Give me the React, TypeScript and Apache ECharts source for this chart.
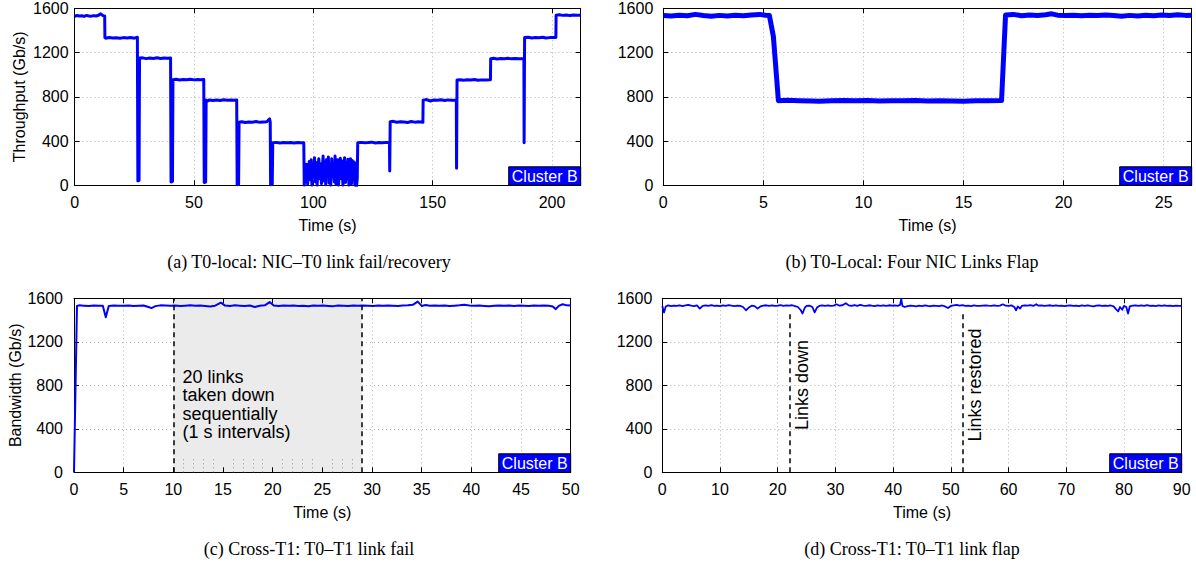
import React, { useEffect, useRef } from "react";
import * as echarts from "echarts";

// ---------- Panel (a): T0-local NIC–T0 link fail/recovery ----------
const tA = [
  0, 1, 2, 3, 4, 5, 6, 7, 8, 9, 10, 10.8, 12, 12.6,
  12.7, 13, 14.5, 16, 17.5, 19, 20.5, 22, 23.5, 25, 26.3,
  26.5, 27.0, 27.2, 28.5, 30, 31.5, 33, 34.5, 36, 37.5, 39, 40.2,
  40.4, 41.0, 41.2, 42.5, 44, 45.5, 47, 48.5, 50, 51.5, 53, 54.1,
  54.3, 54.9, 55.1, 55.6, 56.5, 58, 59.5, 61, 62.5, 64, 65.5, 67, 67.9,
  68.1, 68.7, 68.9, 70, 71.5, 73, 74.5, 76, 77.5, 79, 80.5, 81.7, 81.95,
  82.1, 82.8, 83.0, 84.5, 86, 87.5, 89, 90.5, 92, 93.5, 95, 96,
  96.2, 96.5, 96.9, 97.2, 97.6, 98.0, 98.3, 98.7, 99.1, 99.4, 99.8, 100.1, 100.5, 100.9, 101.2,
  101.6, 101.9, 102.3, 102.7, 103.0, 103.4, 103.7, 104.1, 104.5, 104.8, 105.2, 105.5, 105.9, 106.3,
  106.6, 107.0, 107.3, 107.7, 108.1, 108.4, 108.8, 109.1, 109.5, 109.9, 110.2, 110.6, 110.9, 111.3,
  111.7, 112.0, 112.4, 112.7, 113.1, 113.5, 113.8, 114.2, 114.5, 114.9, 115.3, 115.6, 116.0, 116.3,
  116.7, 117.1, 117.4, 117.8, 118.1, 118.4,
  118.6, 120, 121.5, 123, 124.5, 126, 127.5, 129, 130.5, 131.9,
  132.0, 132.2, 133.5, 135, 136.5, 138, 139.5, 141, 142.5, 144, 145.9,
  146.0, 147.5, 149, 150.5, 152, 153.5, 155, 156.5, 158, 159.9,
  160.0, 160.2, 161.5, 163, 164.5, 166, 167.5, 169, 170.5, 172, 174.2,
  174.3, 175.5, 177, 178.5, 180, 181.5, 183, 184.5, 186, 188.2,
  188.3, 188.5, 190, 191.5, 193, 194.5, 196, 197.5, 199, 201.6,
  201.7, 203, 204.5, 206, 207.5, 209, 210.5, 212,
];
const vA = [
  1528, 1535, 1530, 1533, 1527, 1536, 1531, 1529, 1534, 1530, 1537, 1550, 1532, 1530,
  1335, 1330, 1336, 1331, 1334, 1329, 1335, 1332, 1336, 1330, 1338,
  40, 45, 1150, 1152, 1145, 1150, 1147, 1153, 1146, 1150, 1148, 1151,
  30, 35, 955, 958, 952, 957, 954, 959, 953, 956, 955, 957,
  25, 30, 770, 760, 772, 767, 771, 766, 773, 769, 770, 768, 772,
  5, 10, 570, 575, 568, 573, 570, 576, 569, 572, 574, 600, 572,
  5, 10, 385, 388, 383, 386, 384, 387, 382, 386, 384, 385,
  0, 140, 35, 190, 10, 120, 215, 50, 230, 0, 180, 95, 250, 30, 205,
  0, 160, 240, 60, 195, 15, 130, 265, 40, 210, 5, 230, 110, 255,
  20, 175, 0, 240, 85, 200, 30, 265, 10, 150, 230, 0, 190, 245,
  60, 220, 0, 170, 250, 25, 200, 90, 235, 0, 185, 240, 15, 225,
  50, 210, 0, 195, -10, 60,
  385, 388, 384, 386, 390, 383, 387, 385, 388, 384,
  130, 575, 578, 570, 575, 572, 568, 576, 571, 574, 570,
  770, 775, 762, 771, 768, 774, 766, 772, 769, 771,
  155, 952, 955, 950, 954, 951, 956, 949, 953, 951, 954,
  1145, 1148, 1142, 1146, 1144, 1149, 1143, 1147, 1145, 1146,
  385, 1335, 1338, 1332, 1336, 1334, 1339, 1331, 1335, 1336,
  1538, 1542, 1536, 1540, 1534, 1539, 1537, 1538,
];

// ---------- Panel (b): Four NIC links flap ----------
const tB = [
  0, 0.4, 0.8, 1.2, 1.6, 2.0, 2.4, 2.8, 3.2, 3.6, 4.0, 4.4, 4.8, 5.1, 5.3, 5.5, 5.75,
  6.2, 6.8, 7.4, 7.8, 8.4, 9.0, 9.6, 10.2, 10.8, 11.4, 12.0, 12.6, 13.2, 13.8, 14.4, 15.0,
  15.6, 16.2, 16.9, 17.1, 17.5, 17.9, 18.3, 18.7, 19.1, 19.4, 19.7, 20.1, 20.5, 20.9, 21.3,
  21.7, 22.1, 22.5, 22.9, 23.3, 23.7, 24.1, 24.5, 24.9, 25.3, 25.7, 26.1, 26.4,
];
const vB = [
  1535, 1530, 1538, 1533, 1545, 1535, 1528, 1536, 1530, 1537, 1533, 1540, 1545, 1538, 1535, 1345, 765,
  768, 765, 762, 760, 765, 767, 764, 766, 763, 765, 764, 766, 763, 764, 762, 760,
  765, 764, 766, 1540, 1545, 1532, 1540, 1535, 1542, 1550, 1538, 1535, 1537, 1533, 1538,
  1536, 1540, 1534, 1528, 1536, 1530, 1538, 1532, 1540, 1535, 1542, 1536, 1538,
];

// ---------- Panel (c): Cross-T1 T0–T1 link fail ----------
const tC = [
  0, 0.3, 0.5, 1, 1.5, 2, 2.5, 2.9, 3.2, 3.5, 4, 4.5, 5, 5.5, 6, 6.5, 7, 7.5, 7.8, 8.2, 8.7,
  9.2, 9.7, 10.2, 10.7, 11.2, 11.7, 12.2, 12.7, 13.2, 13.7, 14.2, 14.8, 15.2, 15.7, 16.2,
  16.7, 17.2, 17.7, 18.2, 18.7, 19.2, 19.7, 20.1, 20.6, 21.1, 21.6, 22.1, 22.6, 23.1, 23.6,
  24.1, 24.6, 25.1, 25.6, 26.1, 26.6, 27.1, 27.6, 28.1, 28.6, 29.1, 29.6, 30.1, 30.6, 31.1,
  31.6, 32.1, 32.6, 33.1, 33.6, 34.1, 34.6, 35.0, 35.4, 35.8, 36.3, 36.8, 37.3, 37.8, 38.3,
  38.8, 39.3, 39.8, 40.3, 40.8, 41.3, 41.8, 42.3, 42.8, 43.3, 43.8, 44.3, 44.8, 45.3, 45.8,
  46.3, 46.8, 47.3, 47.8, 48.2, 48.5, 48.8, 49.2, 49.6, 50,
];
const vC = [
  0, 1530, 1535, 1532, 1530, 1533, 1531, 1532, 1425, 1530, 1534, 1532, 1531, 1533, 1530, 1532, 1534, 1520, 1510, 1528, 1535,
  1533, 1531, 1534, 1530, 1532, 1535, 1531, 1533, 1530, 1525, 1532, 1560, 1533, 1530, 1535,
  1532, 1530, 1534, 1520, 1532, 1535, 1565, 1533, 1530, 1534, 1531, 1533, 1530, 1532, 1527,
  1534, 1531, 1533, 1530, 1528, 1534, 1532, 1530, 1533, 1531, 1534, 1532, 1530, 1533, 1531,
  1534, 1532, 1530, 1533, 1535, 1540, 1570, 1530, 1538, 1532, 1534, 1531, 1533, 1530, 1532,
  1535, 1540, 1534, 1531, 1533, 1530, 1528, 1532, 1534, 1531, 1533, 1530, 1534, 1532, 1530,
  1533, 1531, 1534, 1532, 1525, 1500, 1530, 1545, 1535, 1533,
];
const cShadeRange = [10, 29];
const cSubMarks = [11, 12, 13, 14, 16, 17, 18, 19, 21, 22, 23, 24, 26, 27, 28];
const cSubMarkTop = 120;

// ---------- Panel (d): Cross-T1 T0–T1 link flap ----------
const tD = [
  0, 0.3, 0.6, 1, 1.5, 2, 2.5, 3, 3.5, 4, 4.5, 5, 5.5, 6, 6.5, 7, 7.5, 8, 8.5, 9, 9.5, 10,
  10.5, 11, 11.5, 12, 12.5, 13, 13.5, 14, 14.5, 15, 15.5, 16, 16.5, 17, 17.5, 18, 18.5, 19,
  19.5, 20, 20.5, 21, 21.5, 22, 22.5, 23, 23.5, 24, 24.3, 24.7, 25, 25.5, 26, 26.4, 26.8,
  27.2, 27.7, 28.2, 28.7, 29.2, 29.7, 30.2, 30.7, 31.2, 31.8, 32.3, 32.8, 33.3, 33.8, 34.3,
  34.8, 35.3, 35.8, 36.3, 36.8, 37.3, 37.8, 38.3, 38.8, 39.3, 39.8, 40.3, 40.8, 41.2, 41.4,
  41.6, 42, 42.5, 43, 43.5, 44, 44.5, 45, 45.5, 46, 46.5, 47, 47.5, 48, 48.5, 49, 49.5, 50,
  50.5, 51, 51.5, 52, 52.5, 53, 53.5, 54, 54.5, 55, 55.5, 56, 56.5, 57, 57.5, 58, 58.5, 59,
  59.5, 60, 60.5, 61, 61.3, 61.6, 62, 62.3, 62.8, 63.3, 63.8, 64.3, 64.8, 65.2, 65.7, 66.2,
  66.7, 67.2, 67.7, 68.2, 68.7, 69.2, 69.7, 70.2, 70.7, 71.2, 71.7, 72.2, 72.7, 73.2, 73.7,
  74.2, 74.7, 75.2, 75.7, 76.2, 76.7, 77.2, 77.7, 78.2, 78.6, 79, 79.3, 79.7, 80, 80.4, 80.7,
  81.0, 81.5, 82, 82.5, 83, 83.5, 84, 84.5, 85, 85.5, 86, 86.5, 87, 87.5, 88, 88.5, 89, 89.5, 90,
];
const vD = [
  1530, 1470, 1525, 1535, 1528, 1533, 1530, 1536, 1529, 1534, 1540, 1532, 1528, 1535, 1505, 1530, 1534, 1531, 1537, 1530, 1533, 1528,
  1535, 1531, 1538, 1533, 1529, 1532, 1530, 1520, 1490, 1515, 1532, 1528, 1505, 1525, 1533, 1536, 1531, 1534,
  1530, 1533, 1537, 1530, 1534, 1532, 1536, 1528, 1520, 1490, 1460, 1515, 1530, 1533, 1520, 1470, 1515,
  1530, 1534, 1531, 1535, 1530, 1533, 1545, 1532, 1536, 1555, 1535, 1530, 1537, 1531, 1540,
  1533, 1530, 1536, 1532, 1529, 1535, 1531, 1534, 1530, 1536, 1532, 1534, 1531, 1540, 1595,
  1530, 1520, 1528, 1533, 1530, 1526, 1532, 1529, 1534, 1530, 1527, 1533, 1531, 1528, 1534, 1525, 1510, 1530,
  1535, 1540, 1533, 1538, 1530, 1532, 1529, 1534, 1531, 1530, 1533, 1535, 1532, 1530, 1534, 1531, 1533, 1545,
  1532, 1530, 1535, 1520, 1490, 1525, 1505, 1530, 1535, 1532, 1537, 1530, 1545, 1532, 1535, 1530,
  1533, 1536, 1531, 1534, 1530, 1533, 1529, 1532, 1535, 1530, 1533, 1528, 1534, 1531, 1536,
  1530, 1525, 1532, 1535, 1530, 1533, 1531, 1534, 1525, 1500, 1480, 1520, 1495, 1530, 1520, 1460,
  1525, 1532, 1535, 1530, 1534, 1531, 1537, 1530, 1533, 1529, 1534, 1531, 1535, 1530, 1533, 1527, 1532, 1530, 1531,
];
const dEvents = [22, 52];
const dEventTop = 1480;
const dEventLabels = ["Links down", "Links restored"];

// ---------- Texts ----------
const captions = [
  "(a) T0-local: NIC\u2013T0 link fail/recovery",
  "(b) T0-Local: Four NIC Links Flap",
  "(c) Cross-T1: T0\u2013T1 link fail",
  "(d) Cross-T1: T0\u2013T1 link flap",
];
const yNames = ["Throughput (Gb/s)", "", "Bandwidth (Gb/s)", ""];
const clusterLabel = "Cluster B";
const cNote = "20 links\ntaken down\nsequentially\n(1 s intervals)";

const FONT = "Liberation Sans";
const SERIF = "Liberation Serif";
const BLUE = "#0000ff";

const grids = [
  { left: 74.6, top: 8.3, width: 506.1, height: 177 },
  { left: 663.3, top: 8.3, width: 528.4, height: 177 },
  { left: 74, top: 298.3, width: 496.7, height: 174 },
  { left: 662.3, top: 298.3, width: 519.4, height: 174 },
];
const xRanges = [
  { max: 212, interval: 50, hideMax: true },
  { max: 26.4, interval: 5, hideMax: true },
  { max: 50, interval: 5, hideMax: false },
  { max: 90, interval: 10, hideMax: false },
];
const yLabelMargins = [6, 10, 11, 10];
const lineWidths = [3, 5, 2, 1.8];
const captionCenters = [
  [309, 262],
  [912, 262],
  [309, 549],
  [912, 549],
];

const zip = (t: number[], v: number[]) => t.map((x, i) => [x, v[i]]);

export default function App() {
  const ref = useRef<HTMLDivElement>(null);
  useEffect(() => {
    if (!ref.current) return;
    const chart = echarts.init(ref.current, undefined, { renderer: "svg" });

    const gridLine = { show: true, lineStyle: { color: "#b0b0b0", width: 1, type: [1, 3] as any } };
    const axisLineStyle = { show: true, onZero: false, lineStyle: { color: "#000", width: 1 } };
    const tick = { show: true, inside: true, length: 5, lineStyle: { color: "#000", width: 1 } };
    const plain = (v: number) => String(v);

    const xAxes: any[] = [];
    const yAxes: any[] = [];
    grids.forEach((g, i) => {
      const r = xRanges[i];
      xAxes.push({
        type: "value", gridIndex: i, min: 0, max: r.max, interval: r.interval, position: "bottom", z: 1,
        axisLine: axisLineStyle, axisTick: tick, splitLine: gridLine,
        axisLabel: { fontFamily: FONT, fontSize: 16, color: "#000", margin: 9, showMaxLabel: !r.hideMax, formatter: plain },
        name: "Time (s)", nameLocation: "middle", nameGap: 32,
        nameTextStyle: { fontFamily: FONT, fontSize: 16, color: "#000" },
      });
      xAxes.push({
        type: "value", gridIndex: i, min: 0, max: r.max, interval: r.interval, position: "top", z: 1,
        axisLine: axisLineStyle, axisTick: tick, splitLine: { show: false }, axisLabel: { show: false },
      });
      yAxes.push({
        type: "value", gridIndex: i, min: 0, max: 1600, interval: 400, position: "left", z: 1,
        axisLine: axisLineStyle, axisTick: tick, splitLine: gridLine,
        axisLabel: { fontFamily: FONT, fontSize: 16, color: "#000", margin: yLabelMargins[i], formatter: plain },
        name: yNames[i], nameLocation: "middle", nameGap: 47,
        nameTextStyle: { fontFamily: FONT, fontSize: 16, color: "#000" },
      });
      yAxes.push({
        type: "value", gridIndex: i, min: 0, max: 1600, interval: 400, position: "right", z: 1,
        axisLine: axisLineStyle, axisTick: tick, splitLine: { show: false }, axisLabel: { show: false },
      });
    });

    const data = [zip(tA, vA), zip(tB, vB), zip(tC, vC), zip(tD, vD)];
    const series: any[] = data.map((d, i) => ({
      type: "line", xAxisIndex: 2 * i, yAxisIndex: 2 * i, data: d, showSymbol: false, symbol: "none",
      z: 3, silent: true, clip: true,
      lineStyle: { color: BLUE, width: lineWidths[i], join: "round" },
    }));

    // Panel (c) shading + markers
    series.push({
      type: "line", xAxisIndex: 4, yAxisIndex: 4, data: [], z: 0, silent: true,
      markArea: {
        silent: true,
        itemStyle: { color: "#ebebeb" },
        data: [[{ xAxis: cShadeRange[0], yAxis: 0 }, { xAxis: cShadeRange[1], yAxis: 1600 }]],
      },
    });
    series.push({
      type: "line", xAxisIndex: 4, yAxisIndex: 4, data: [], z: 2, silent: true,
      markLine: {
        silent: true, symbol: "none", label: { show: false },
        lineStyle: { color: "#999", width: 1, type: [1, 3] as any },
        data: cSubMarks.map((s) => [{ coord: [s, 0] }, { coord: [s, cSubMarkTop] }]),
      },
    });
    series.push({
      type: "line", xAxisIndex: 4, yAxisIndex: 4, data: [], z: 4, silent: true,
      markLine: {
        silent: true, symbol: "none", label: { show: false },
        lineStyle: { color: "#000", width: 1.5, type: [5, 4] as any },
        data: cShadeRange.map((s) => [{ coord: [s, 0] }, { coord: [s, 1600] }]),
      },
    });
    // Panel (d) event markers
    series.push({
      type: "line", xAxisIndex: 6, yAxisIndex: 6, data: [], z: 4, silent: true,
      markLine: {
        silent: true, symbol: "none", label: { show: false },
        lineStyle: { color: "#000", width: 1.5, type: [5, 4] as any },
        data: dEvents.map((s) => [{ coord: [s, 0] }, { coord: [s, dEventTop] }]),
      },
    });

    const graphics: any[] = [];
    grids.forEach((g, i) => {
      const right = g.left + g.width;
      const bottom = g.top + g.height;
      graphics.push({
        type: "rect", z: 10, shape: { x: right - 72, y: bottom - 18.5, width: 72, height: 18.5 },
        style: { fill: BLUE, stroke: "#000", lineWidth: 1 },
      });
      graphics.push({
        type: "text", z: 11, x: right - 36, y: bottom - 9,
        style: { text: clusterLabel, fill: "#fff", font: `16px "${FONT}"`, textAlign: "center", textVerticalAlign: "middle" },
      });
      graphics.push({
        type: "text", z: 11, x: captionCenters[i][0], y: captionCenters[i][1],
        style: { text: captions[i], fill: "#000", font: `18px "${SERIF}"`, textAlign: "center", textVerticalAlign: "middle" },
      });
    });
    graphics.push({
      type: "text", z: 11, x: 182.5, y: 368,
      style: { text: cNote, fill: "#000", font: `18px "${FONT}"`, lineHeight: 18.3, textAlign: "left", textVerticalAlign: "top" },
    });
    const dx = [801.7, 975];
    const dy = [385, 385];
    dEventLabels.forEach((lab, k) => {
      graphics.push({
        type: "text", z: 11, x: dx[k], y: dy[k], rotation: Math.PI / 2,
        style: { text: lab, fill: "#000", font: `18px "${FONT}"`, textAlign: "center", textVerticalAlign: "middle" },
      });
    });

    chart.setOption({
      animation: false,
      backgroundColor: "#fff",
      grid: grids.map((g) => ({ ...g, containLabel: false })),
      xAxis: xAxes,
      yAxis: yAxes,
      series,
      graphic: graphics,
    });
    return () => chart.dispose();
  }, []);
  return (
    <div
      ref={ref}
      style={{ position: "absolute", left: 0, top: 0, width: 1196, height: 562, background: "#fff" }}
    />
  );
}
